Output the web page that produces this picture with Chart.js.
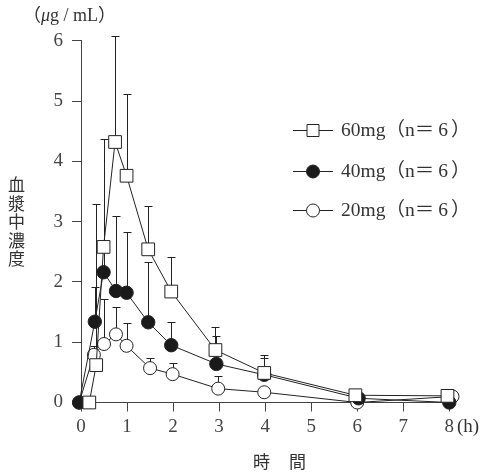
<!DOCTYPE html>
<html>
<head>
<meta charset="utf-8">
<script src="https://cdn.jsdelivr.net/npm/chart.js@4.4.1/dist/chart.umd.min.js"></script>
<style>
	body { margin: 0; background: #fff; }
	#wrap { position: relative; width: 484px; height: 474px; overflow: hidden; }
	.txt { position: absolute; color: #333; font-family: "Liberation Serif", "Noto Sans CJK JP", serif; white-space: nowrap; }
	.cjk { font-family: "Noto Sans CJK JP", sans-serif; }
	.leg { font-size: 19.5px; line-height: 22px; }
	.leg .eq { margin-right: 4px; }
	.leg .cl { margin-left: 3px; }
</style>
</head>
<body>
<div id="wrap">
	<canvas id="canvas0" width="484" height="474"></canvas>
	<div class="txt" style="left:23px; top:4px; font-size:18px; line-height:22px;">（<i>μ</i>g / mL）</div>
	<div class="txt cjk" style="left:8px; top:175px; width:18px; font-size:17px; line-height:18.5px; white-space:normal;">血<br>漿<br>中<br>濃<br>度</div>
	<div class="txt cjk" style="left:253px; top:450px; font-size:17px; line-height:22px; letter-spacing:1px;">時　間</div>
	<div class="txt" style="left:457px; top:415px; font-size:19px; line-height:22px;">(h)</div>
	<div class="txt leg" style="left:341px; top:119px;">60mg（n<span class="eq">＝</span>6<span class="cl">）</span></div>
	<div class="txt leg" style="left:341px; top:160px;">40mg（n<span class="eq">＝</span>6<span class="cl">）</span></div>
	<div class="txt leg" style="left:341px; top:199px;">20mg（n<span class="eq">＝</span>6<span class="cl">）</span></div>
</div>
<script>
// Values (time in h, concentration in ug/mL)
// series are shifted a little in time on the original, so each keeps its own x
var xTicks = [0, 1, 2, 3, 4, 5, 6, 7, 8];
var yTicks = [0, 1, 2, 3, 4, 5, 6];

var time60 = [0.18, 0.33, 0.49, 0.74, 0.99, 1.46, 1.96, 2.92, 3.98, 5.96, 7.96];
var conc60 = [0, 0.62, 2.58, 4.32, 3.76, 2.54, 1.84, 0.87, 0.49, 0.12, 0.11];
var top60 = [null, 3.29, 4.37, 6.07, 5.11, 3.26, 2.41, 1.26, 0.79, null, null];

var time40 = [-0.04, 0.30, 0.49, 0.76, 0.99, 1.46, 1.96, 2.94, 3.98, 6.03, 8.0];
var conc40 = [0, 1.34, 2.16, 1.85, 1.82, 1.33, 0.95, 0.64, 0.46, 0.07, 0];
var top40 = [null, 1.91, 2.5, 3.10, 2.82, 2.33, 1.34, 1.10, 0.73, null, null];

var time20 = [-0.04, 0.28, 0.50, 0.76, 0.99, 1.50, 1.99, 2.98, 3.98, 6.0, 8.07];
var conc20 = [0, 0.79, 0.97, 1.13, 0.94, 0.57, 0.47, 0.23, 0.17, 0, 0.10];
var top20 = [null, 0.93, 1.72, 1.59, 1.32, 0.73, 0.65, 0.44, null, null, null];

var legendRows = [130, 171, 210];
var ink = '#222', axisInk = '#444';

function toPoints(xs, ys) {
	return xs.map((x, i) => ({ x: x, y: ys[i] }));
}

// Upper SD bars, drawn under the markers
var errorBars = {
	id: 'errorBars',
	beforeDatasetsDraw(chart) {
		let ctx = chart.ctx, xs = chart.scales.x, ys = chart.scales.y;
		let sets = [[time60, conc60, top60], [time40, conc40, top40], [time20, conc20, top20]];
		ctx.save();
		ctx.strokeStyle = ink;
		ctx.lineWidth = 1;
		for(let s of sets) {
			s[2].forEach((t, i) => {
				if(t === null)
					return;
				let px = Math.round(xs.getPixelForValue(s[0][i])) + 0.5;
				let y0 = ys.getPixelForValue(s[1][i]);
				let y1 = Math.round(ys.getPixelForValue(t)) + 0.5;
				ctx.beginPath();
				ctx.moveTo(px, y0);
				ctx.lineTo(px, y1);
				ctx.moveTo(px - 4, y1);
				ctx.lineTo(px + 4, y1);
				ctx.stroke();
			});
		}
		ctx.restore();
	}
};

// Legend samples (line + marker), text is in the page
var legendMarks = {
	id: 'legendMarks',
	afterDraw(chart) {
		let ctx = chart.ctx;
		ctx.save();
		ctx.lineWidth = 1;
		ctx.strokeStyle = ink;
		chart.data.datasets.forEach((ds, i) => {
			let y = legendRows[i] + 0.5;
			ctx.beginPath();
			ctx.moveTo(293, y);
			ctx.lineTo(333, y);
			ctx.stroke();
			ctx.beginPath();
			if(ds.pointStyle === 'rect')
				ctx.rect(307, y - 6, 12, 12);
			else
				ctx.arc(313, y, 6.5, 0, Math.PI * 2);
			ctx.fillStyle = ds.pointBackgroundColor;
			ctx.fill();
			ctx.stroke();
		});
		ctx.restore();
	}
};

var ctx = document.getElementById('canvas0').getContext('2d');
var chartJsOptions = {
	type: 'line',
	data: {
		datasets: []
	},
	options: {
		responsive: false,
		animation: false,
		layout: {
			padding: { left: 0, top: 40.7, right: 34.7, bottom: 0 }
		},
		scales: {
			x: {
				type: 'linear',
				min: 0,
				max: 8,
				afterFit: function(scale) { scale.height = 71.5; },
				afterBuildTicks: function(scale) { scale.ticks = xTicks.map(v => ({ value: v })); },
				ticks: {
					color: '#444',
					padding: 4,
					font: { family: 'Liberation Serif', size: 19 }
				},
				grid: {
					drawOnChartArea: false,
					tickLength: 9,
					tickColor: axisInk
				},
				border: { color: axisInk, width: 1 }
			},
			y: {
				type: 'linear',
				min: 0,
				max: 6,
				afterFit: function(scale) { scale.width = 81; },
				afterBuildTicks: function(scale) { scale.ticks = yTicks.map(v => ({ value: v })); },
				ticks: {
					color: '#444',
					padding: 9,
					font: { family: 'Liberation Serif', size: 19 }
				},
				grid: {
					drawOnChartArea: false,
					tickLength: 9,
					tickColor: axisInk
				},
				border: { color: axisInk, width: 1 }
			}
		},
		plugins: {
			legend: { display: false },
			tooltip: { enabled: false }
		}
	},
	plugins: [errorBars, legendMarks]
};
chartJsOptions.data.datasets[0] = {
	label: '60mg（n＝6）',
	data: toPoints(time60, conc60),
	borderColor: ink,
	borderWidth: 1,
	pointStyle: 'rect',
	pointRadius: 9,
	pointBackgroundColor: '#fff',
	pointBorderColor: ink,
	pointBorderWidth: 1,
	lineTension: 0,
	fill: false,
	clip: false
};
chartJsOptions.data.datasets[1] = {
	label: '40mg（n＝6）',
	data: toPoints(time40, conc40),
	borderColor: ink,
	borderWidth: 1,
	pointStyle: 'circle',
	pointRadius: 6.7,
	pointBackgroundColor: '#1a1a1a',
	pointBorderColor: ink,
	pointBorderWidth: 1,
	lineTension: 0,
	fill: false,
	clip: false
};
chartJsOptions.data.datasets[2] = {
	label: '20mg（n＝6）',
	data: toPoints(time20, conc20),
	borderColor: ink,
	borderWidth: 1,
	pointStyle: 'circle',
	pointRadius: 6.5,
	pointBackgroundColor: '#fff',
	pointBorderColor: ink,
	pointBorderWidth: 1,
	lineTension: 0,
	fill: false,
	clip: false
};
var chart = new Chart(ctx, chartJsOptions);
</script>
</body>
</html>
